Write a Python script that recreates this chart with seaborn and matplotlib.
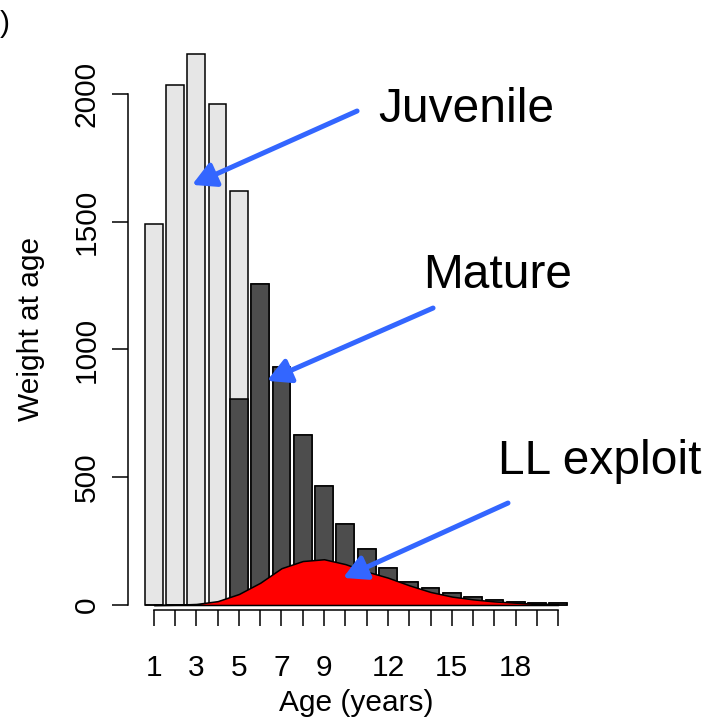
import matplotlib
matplotlib.use('Agg')
import matplotlib.pyplot as plt
import numpy as np
import pandas as pd
import seaborn as sns

# weight at age
ages = list(range(1, 21))
total = [1490, 2035, 2155, 1960, 1620, 1258, 932, 667, 467, 318,
         218, 146, 91, 65, 45, 30, 19, 13, 9, 6]
mature = [0, 0, 0, 0, 808, 1258, 932, 667, 467, 318,
          218, 146, 91, 65, 45, 30, 19, 13, 9, 6]
exploit = [0, 1, 4, 15, 43, 87, 144, 172, 179, 160,
           131, 107, 77, 51, 33, 22, 14, 9, 5, 4]
tick_labels = ['1', '', '3', '', '5', '', '7', '', '9', '', '', '12', '', '',
               '15', '', '', '18', '', '']
y_ticks = [0, 500, 1000, 1500, 2000]

df = pd.DataFrame({'age': ages, 'total': total, 'mature': mature,
                   'exploit': exploit})

sns.set_style('white')
plt.rcParams['font.family'] = ['Liberation Sans', 'DejaVu Sans']
plt.rcParams['text.color'] = 'black'
plt.rcParams['xtick.color'] = 'black'
plt.rcParams['ytick.color'] = 'black'
plt.rcParams['axes.labelcolor'] = 'black'

fig = plt.figure(figsize=(7.2, 7.25), dpi=100)
ax = fig.add_axes([128 / 720, 115 / 725, 456 / 720, 580 / 725])

bw = 1 / 1.2
sns.barplot(data=df, x='age', y='total', color='#e6e6e6', width=bw,
            edgecolor='black', linewidth=1.1, saturation=1, ax=ax)
sns.barplot(data=df, x='age', y='mature', color='#4d4d4d', width=bw,
            edgecolor='black', linewidth=1.1, saturation=1, ax=ax)

pos = np.arange(len(ages))
ax.fill_between(pos, df['exploit'], 0, facecolor='red', edgecolor='black',
                linewidth=1.1, zorder=3)

ax.set_xlim(-1.21, 20.21)
ax.set_ylim(-19.6, 2250)

ax.set_xticks(pos)
ax.set_xticklabels(tick_labels)
ax.set_yticks(y_ticks)
ax.set_yticklabels([str(v) for v in y_ticks], rotation=90, va='center')
ax.tick_params(axis='both', direction='out', length=11.5, width=1.1,
               color='black', labelcolor='black', labelsize=21.5,
               left=True, bottom=True)
ax.tick_params(axis='x', pad=20)
ax.tick_params(axis='y', pad=8)

for s in ['top', 'right']:
    ax.spines[s].set_visible(False)
ax.spines['left'].set_bounds(0, 2000)
ax.spines['bottom'].set_bounds(0, 19)
for s in ['left', 'bottom']:
    ax.spines[s].set_color('black')
    ax.spines[s].set_linewidth(1.1)

ax.set_xlabel('Age (years)', fontsize=21.5, color='black')
ax.set_ylabel('Weight at age', fontsize=21.5, color='black')
ax.xaxis.set_label_coords(0.5, -0.136)
ax.yaxis.set_label_coords(-0.182, 0.485)

arrow_kw = dict(arrowstyle='-|>,head_length=0.7,head_width=0.38',
                color='#3366ff', lw=3.6, shrinkA=0, shrinkB=0,
                mutation_scale=20)
ax.annotate('', xy=(1.80, 1644), xytext=(9.55, 1933), arrowprops=arrow_kw,
            zorder=5)
ax.annotate('', xy=(5.32, 877), xytext=(13.12, 1162), arrowprops=arrow_kw,
            zorder=5)
ax.annotate('', xy=(8.89, 106), xytext=(16.64, 399), arrowprops=arrow_kw,
            zorder=5)

ax.text(10.53, 1890, 'Juvenile', fontsize=34.5, ha='left', va='baseline')
ax.text(12.65, 1241, 'Mature', fontsize=34.5, ha='left', va='baseline')
ax.text(16.18, 513, 'LL exploit', fontsize=34.5, ha='left', va='baseline')

# panel label, only its closing bracket is visible in the reference
fig.text(10 / 720, 1 - 24 / 725, ')', fontsize=21.5, ha='right',
         va='center')

fig.savefig('out.png', dpi=100)
